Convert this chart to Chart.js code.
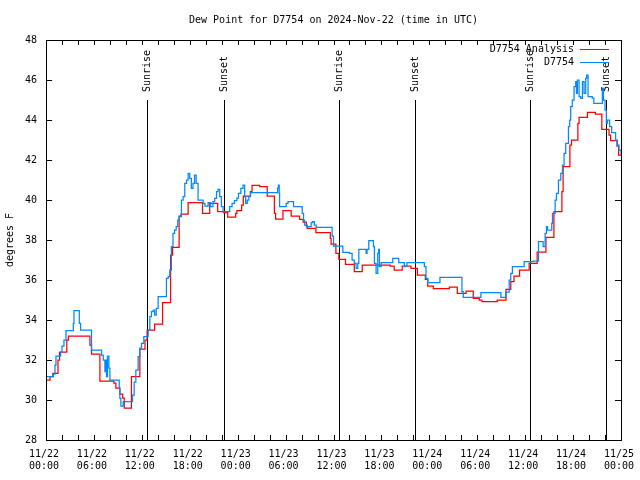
<!DOCTYPE html>
<html>
<head>
<meta charset="utf-8">
<script src="https://cdn.jsdelivr.net/npm/chart.js@4.4.0/dist/chart.umd.min.js"></script>
<style>
  html, body { margin: 0; padding: 0; background: #fff; }
</style>
</head>
<body>
<canvas id="dewChart" width="640" height="480"></canvas>
<script>
// hours since 2024-11-22 00:00 UTC, value holds until next point
const analysisHours = [0, 0.5, 0.85, 1.5, 1.7, 2.6, 2.8, 5.5, 5.7, 6.75, 8.5, 8.75, 9.25, 9.6, 9.8,
    10.7, 11.75, 12.4, 12.66, 13.6, 14.6, 15.6, 15.85, 16.67, 16.9, 17.8, 19.6, 20.5, 21.5, 22.25,
    22.75, 23.75, 23.9, 24.5, 24.7, 25.6, 25.8, 26.75, 27.7, 28.6, 28.75, 29.67, 30.7, 31.75, 32.2,
    32.6, 32.7, 33.8, 35.6, 35.7, 36.3, 36.67, 37.5, 38.6, 39.6, 43.1, 43.6, 44.6, 45.7, 46.5,
    47.5, 47.8, 48.5, 50.5, 51.5, 52.6, 53.5, 54.25, 54.6, 56.5, 57.6, 58.2, 58.6, 59.3, 60.5,
    61.5, 62.6, 63.6, 64.6, 64.75, 65.6, 65.8, 66.6, 66.75, 67.8, 68.8, 69.6, 70.5, 70.7, 71.5,
    71.7, 72];
const analysisDew = [31.0, 31.17, 31.33, 32.0, 32.4, 33.0, 33.2, 32.75, 32.3, 30.95, 30.85, 30.6, 30.3, 30.1, 29.6,
    31.17, 32.55, 33.0, 33.5, 33.8, 34.87, 37.25, 37.63, 39.2, 39.3, 39.87, 39.33, 39.83, 39.42, 39.37,
    39.15, 39.33, 39.47, 39.75, 40.2, 40.42, 40.73, 40.67, 40.2, 39.33, 39.05, 39.47, 39.2, 39.03, 38.9,
    38.75, 38.58, 38.37, 38.08, 37.8, 37.33, 37.03, 36.78, 36.42, 36.75, 36.7, 36.5, 36.7, 36.58, 36.25,
    36.03, 35.7, 35.57, 35.65, 35.33, 35.45, 35.08, 35.0, 34.92, 35.0, 35.53, 35.92, 36.2, 36.5, 36.83,
    37.4, 38.13, 39.42, 40.42, 41.67, 42.75, 43.0, 43.83, 44.13, 44.38, 44.3, 43.53, 43.25, 42.97, 42.7,
    42.25, 42.25];

const stationHours = [0, 0.92, 1.125, 1.25, 1.83, 2.0, 2.25, 2.5, 3.42, 3.5, 4.17, 4.33, 5.7, 6.96, 7.17,
    7.375, 7.5, 7.58, 7.7, 7.875, 8.0, 9.17, 9.25, 9.375, 9.67, 10.83, 11.04, 11.25, 11.54, 11.75,
    11.96, 12.25, 12.79, 13.0, 13.2, 13.42, 13.6, 13.8, 14.04, 15.08, 15.3, 15.5, 15.7, 15.9, 16.1,
    16.3, 16.5, 16.7, 16.96, 17.17, 17.375, 17.6, 17.8, 18.0, 18.2, 18.4, 18.6, 18.8, 19.04, 19.67,
    19.9, 20.3, 20.6, 20.9, 21.125, 21.35, 21.54, 21.75, 21.96, 22.17, 23.0, 23.3, 23.6, 23.9, 24.1,
    24.4, 24.67, 24.875, 25.0, 25.2, 25.4, 25.6, 29.0, 29.1, 29.2, 29.25, 30.08, 30.3, 31.0, 32.08,
    32.25, 32.375, 32.6, 33.2, 33.4, 33.6, 33.83, 35.83, 36.0, 37.17, 38.0, 38.33, 38.6, 38.83, 39.04,
    39.17, 40.08, 40.2, 40.42, 41.0, 41.125, 41.33, 41.54, 41.65, 41.75, 41.96, 43.42, 44.17, 44.875, 45.0,
    45.2, 47.375, 47.58, 47.8, 49.33, 52.08, 52.25, 54.46, 56.96, 57.58, 58.0, 58.2, 58.4, 59.875, 61.0,
    61.67, 62.25, 62.5, 62.67, 62.8, 63.33, 63.42, 63.75, 63.92, 64.17, 64.46, 64.67, 64.875, 65.08, 65.42,
    65.58, 65.7, 65.9, 66.125, 66.33, 66.42, 66.54, 66.75, 66.96, 67.17, 67.375, 67.58, 67.7, 67.875, 68.4,
    68.6, 69.46, 69.67, 69.8, 70.0, 70.17, 70.3, 70.58, 70.83, 71.33, 71.54, 71.75, 72];
const stationDew = [31.17, 31.3, 31.75, 32.2, 32.4, 32.7, 33.0, 33.47, 33.83, 34.47, 33.83, 33.5, 32.5, 32.25, 32.0,
    31.42, 32.0, 31.17, 32.2, 31.6, 31.0, 30.6, 30.08, 29.7, 29.92, 30.25, 30.9, 31.5, 32.17, 32.6,
    32.83, 33.17, 33.5, 34.17, 34.42, 34.5, 34.25, 34.58, 35.17, 36.08, 36.17, 36.5, 37.67, 38.33, 38.5,
    38.67, 39.0, 39.17, 40.0, 40.17, 40.83, 41.0, 41.33, 41.08, 40.58, 40.83, 41.25, 40.83, 40.0, 39.83,
    39.7, 39.87, 39.67, 39.92, 40.08, 40.42, 40.53, 40.17, 39.67, 39.42, 39.67, 39.83, 39.97, 40.1, 40.33,
    40.58, 40.75, 40.17, 39.83, 40.0, 40.17, 40.37, 40.6, 40.75, 40.33, 39.67, 39.83, 39.92, 39.67, 39.33,
    39.0, 38.75, 38.67, 38.87, 38.92, 38.75, 38.63, 38.2, 37.7, 37.38, 37.33, 37.0, 36.83, 36.58, 36.83,
    37.53, 37.33, 37.53, 37.97, 37.67, 36.83, 36.33, 37.33, 37.53, 36.67, 36.87, 37.08, 36.87, 36.67, 36.7,
    36.87, 36.67, 36.08, 35.87, 36.13, 35.42, 35.13, 35.37, 35.13, 35.4, 36.0, 36.33, 36.67, 36.92, 36.95,
    37.92, 37.67, 38.33, 38.67, 38.5, 38.83, 39.33, 40.0, 40.33, 41.0, 41.33, 41.75, 42.33, 42.83, 43.67,
    44.0, 44.67, 45.0, 45.67, 45.92, 45.33, 46.0, 45.17, 45.08, 45.92, 45.33, 46.08, 46.25, 45.17, 45.1,
    44.83, 44.83, 45.58, 45.0, 44.5, 43.83, 44.0, 43.67, 43.37, 43.0, 42.75, 42.5, 42.3];

const sunriseHours = [12.65, 36.63, 60.65];
const sunsetHours = [22.28, 46.2, 70.18];

const FONT = "'DejaVu Sans Mono', monospace";

function toPoints(xs, ys) {
    return xs.map((x, i) => ({ x: x, y: ys[i] }));
}

function pad2(n) {
    return (n < 10 ? '0' : '') + n;
}

// draws the gnuplot-like frame, inward ticks, sun lines and legend
const gnuplotBits = {
    id: 'gnuplotBits',
    beforeDatasetsDraw(chart) {
        const ctx = chart.ctx;
        const xs = chart.scales.x;
        const ys = chart.scales.y;
        const bottom = chart.chartArea.bottom;
        const lineTop = ys.getPixelForValue(45);
        ctx.save();
        ctx.strokeStyle = '#000';
        ctx.fillStyle = '#000';
        ctx.lineWidth = 1;
        ctx.font = '10px ' + FONT;
        const events = sunriseHours.map(h => [h, 'Sunrise']).concat(sunsetHours.map(h => [h, 'Sunset']));
        events.forEach(ev => {
            const px = Math.round(xs.getPixelForValue(ev[0])) + 0.5;
            ctx.beginPath();
            ctx.moveTo(px, lineTop);
            ctx.lineTo(px, bottom);
            ctx.stroke();
            ctx.save();
            ctx.translate(px, lineTop - 8);
            ctx.rotate(-Math.PI / 2);
            ctx.textAlign = 'left';
            ctx.textBaseline = 'middle';
            ctx.fillText(ev[1], 0, 0);
            ctx.restore();
        });
        ctx.restore();
    },
    afterDatasetsDraw(chart) {
        const ctx = chart.ctx;
        const a = chart.chartArea;
        const xs = chart.scales.x;
        const ys = chart.scales.y;
        ctx.save();
        ctx.strokeStyle = '#000';
        ctx.lineWidth = 1;
        ctx.beginPath();
        for (let h = 0; h <= 72; h += 2) {
            const px = Math.round(xs.getPixelForValue(h)) + 0.5;
            ctx.moveTo(px, a.bottom);
            ctx.lineTo(px, a.bottom - 5);
            ctx.moveTo(px, a.top);
            ctx.lineTo(px, a.top + 5);
        }
        for (let v = 28; v <= 48; v += 2) {
            const py = Math.round(ys.getPixelForValue(v)) + 0.5;
            ctx.moveTo(a.left, py);
            ctx.lineTo(a.left + 6, py);
            ctx.moveTo(a.right, py);
            ctx.lineTo(a.right - 6, py);
        }
        ctx.stroke();
        ctx.strokeRect(Math.round(a.left) + 0.5, Math.round(a.top) + 0.5,
            Math.round(a.right - a.left), Math.round(a.bottom - a.top));

        // legend, top right inside the plot
        ctx.font = '10px ' + FONT;
        ctx.textAlign = 'right';
        ctx.textBaseline = 'middle';
        ctx.fillStyle = '#000';
        const legendOrder = [1, 0];
        legendOrder.forEach((di, row) => {
            const ds = chart.data.datasets[di];
            const y = a.top + 9.5 + row * 13;
            ctx.fillText(ds.label, a.right - 47, y);
            ctx.strokeStyle = ds.borderColor;
            ctx.beginPath();
            ctx.moveTo(a.right - 41, y);
            ctx.lineTo(a.right - 12, y);
            ctx.stroke();
        });
        ctx.restore();
    }
};

new Chart(document.getElementById('dewChart'), {
    type: 'line',
    data: {
        datasets: [{
            label: 'D7754',
            data: toPoints(stationHours, stationDew),
            borderColor: '#0088ff',
            borderWidth: 1.25,
            pointRadius: 0,
            stepped: true,
            order: 1
        }, {
            label: 'D7754 Analysis',
            data: toPoints(analysisHours, analysisDew),
            borderColor: '#ff0000',
            borderWidth: 1.25,
            pointRadius: 0,
            stepped: true,
            order: 2
        }]
    },
    options: {
        responsive: false,
        animation: false,
        layout: { padding: { left: 0, right: 19, top: 0, bottom: 0 } },
        scales: {
            x: {
                type: 'linear',
                min: 0,
                max: 72,
                grid: { display: false, drawTicks: false },
                border: { display: false },
                ticks: {
                    stepSize: 6,
                    autoSkip: false,
                    maxRotation: 0,
                    padding: 8,
                    labelOffset: -2,
                    color: '#000',
                    font: { family: FONT, size: 10 },
                    callback: function(value) {
                        const day = 22 + Math.floor(value / 24);
                        const hh = value % 24;
                        return ['11/' + day, pad2(hh) + ':00'];
                    }
                },
                afterFit: function(scale) {
                    scale.height = 40;
                    scale.paddingLeft = 0;
                    scale.paddingRight = 0;
                }
            },
            y: {
                min: 28,
                max: 48,
                grid: { display: false, drawTicks: false },
                border: { display: false },
                ticks: {
                    stepSize: 2,
                    padding: 9,
                    color: '#000',
                    font: { family: FONT, size: 10 }
                },
                title: {
                    display: true,
                    text: 'degrees F',
                    color: '#000',
                    font: { family: FONT, size: 10 },
                    padding: { top: 4, bottom: 0 }
                },
                afterFit: function(scale) { scale.width = 46; }
            }
        },
        plugins: {
            legend: { display: false },
            tooltip: { enabled: false },
            title: {
                display: true,
                fullSize: false,
                text: 'Dew Point for D7754 on 2024-Nov-22 (time in UTC)',
                color: '#000',
                font: { family: FONT, size: 10, weight: 'normal' },
                padding: { top: 14, bottom: 14 }
            }
        }
    },
    plugins: [gnuplotBits]
});
</script>
</body>
</html>
